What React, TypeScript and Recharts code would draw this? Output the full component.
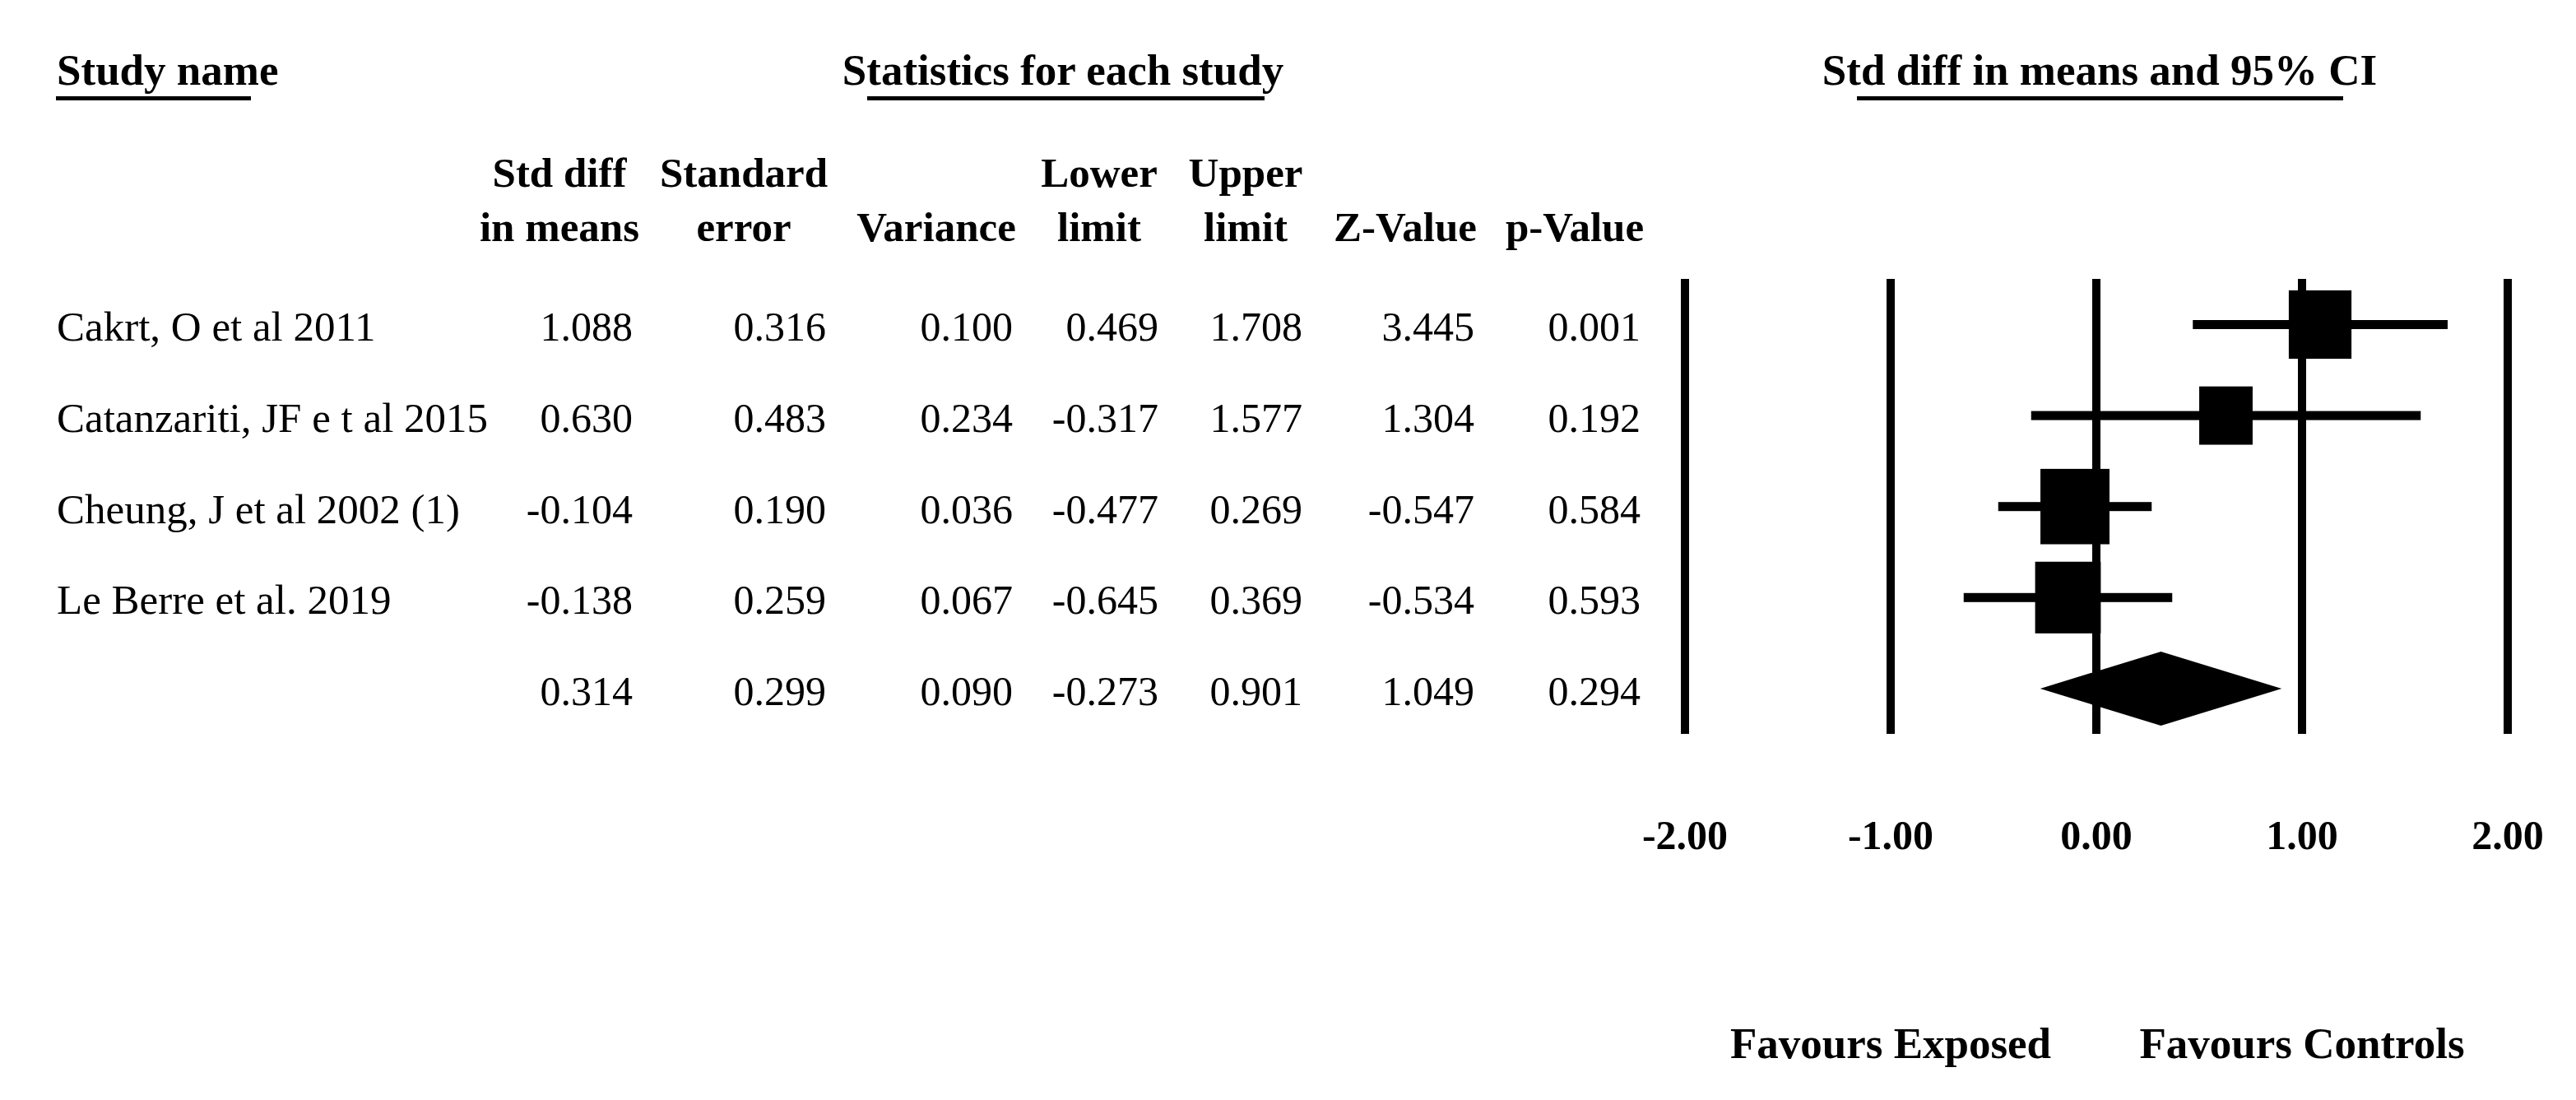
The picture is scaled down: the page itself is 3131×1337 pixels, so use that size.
import { Bar, ComposedChart, ReferenceLine, XAxis, YAxis } from 'recharts';

const studies = [
  'Cakrt, O et al 2011',
  'Catanzariti, JF e t al 2015',
  'Cheung, J et al 2002 (1)',
  'Le Berre et al. 2019',
  '',
];
const stdDiff = [1.088, 0.63, -0.104, -0.138, 0.314];
const stdErr = [0.316, 0.483, 0.19, 0.259, 0.299];
const variance = [0.1, 0.234, 0.036, 0.067, 0.09];
const lowerLimit = [0.469, -0.317, -0.477, -0.645, -0.273];
const upperLimit = [1.708, 1.577, 0.269, 0.369, 0.901];
const zValue = [3.445, 1.304, -0.547, -0.534, 1.049];
const pValue = [0.001, 0.192, 0.584, 0.593, 0.294];
// relative weights (%), last row is the pooled estimate
const weight = [24.8, 18.0, 30.1, 27.2, 0];

const xTicks = [-2, -1, 0, 1, 2];
const favourAt = [-1, 1];
const favourLabels = ['Favours Exposed', 'Favours Controls'];

const colHeads = [
  ['Std diff', 'in means'],
  ['Standard', 'error'],
  ['', 'Variance'],
  ['Lower', 'limit'],
  ['Upper', 'limit'],
  ['', 'Z-Value'],
  ['', 'p-Value'],
];
const colValues = [stdDiff, stdErr, variance, lowerLimit, upperLimit, zValue, pValue];

// layout (px)
const W = 3131;
const H = 1337;
const FONT = '"Liberation Serif", serif';
const colRight = [769, 1004, 1231, 1408, 1583, 1792, 1994];
const colCenter = [680, 904, 1138, 1336, 1514, 1708, 1914];

const rows = studies.map((name, i) => ({
  id: String(i),
  name,
  est: stdDiff[i],
  ci: [lowerLimit[i], upperLimit[i]],
  weight: weight[i],
  pooled: i === studies.length - 1,
}));

function RowShape(props: any) {
  const { y, height, payload } = props;
  let { x, width } = props;
  if (width < 0) {
    x += width;
    width = -width;
  }
  const cy = y + height / 2;
  const [lo, hi] = payload.ci;
  const cx = x + (width * (payload.est - lo)) / (hi - lo);
  if (payload.pooled) {
    const h = 45;
    return (
      <polygon
        points={`${x},${cy} ${cx},${cy - h} ${x + width},${cy} ${cx},${cy + h}`}
        fill="#000"
      />
    );
  }
  const s = Math.sqrt(payload.weight);
  const bw = 15.3 * s;
  const bh = 16.7 * s;
  return (
    <g>
      <rect x={x} y={cy - 5.5} width={width} height={11} fill="#000" />
      <rect x={cx - bw / 2} y={cy - bh / 2} width={bw} height={bh} fill="#000" />
    </g>
  );
}

function RowTick(props: any) {
  const { y, payload } = props;
  const i = Number(payload.value);
  const base = y + 20;
  return (
    <g fontFamily={FONT} fill="#000">
      <text x={69} y={base} fontSize={51}>
        {studies[i]}
      </text>
      {colValues.map((vals, k) => (
        <text key={k} x={colRight[k]} y={base} fontSize={50} textAnchor="end">
          {vals[i].toFixed(3)}
        </text>
      ))}
    </g>
  );
}

// tick value plus, under -1 and +1, the "favours" caption
function ValueTick(props: any) {
  const { x, payload } = props;
  const f = favourAt.indexOf(payload.value);
  return (
    <g fontFamily={FONT} fontWeight="bold" fill="#000">
      <text x={x} y={1032} fontSize={50} textAnchor="middle">
        {payload.value.toFixed(2)}
      </text>
      {f >= 0 && (
        <text x={x} y={1286} fontSize={53} textAnchor="middle">
          {favourLabels[f]}
        </text>
      )}
    </g>
  );
}

function Headers() {
  return (
    <svg
      width={W}
      height={H}
      style={{ position: 'absolute', left: 0, top: 0, pointerEvents: 'none' }}
    >
      <g fontFamily={FONT} fontWeight="bold" fill="#000" fontSize={53}>
        <text x={69} y={103}>Study name</text>
        <text x={1292} y={103} textAnchor="middle">Statistics for each study</text>
        <text x={2552} y={103} textAnchor="middle">Std diff in means and 95% CI</text>
        {colHeads.map((h, k) => (
          <g key={k}>
            <text x={colCenter[k]} y={227} textAnchor="middle" fontSize={51}>{h[0]}</text>
            <text x={colCenter[k]} y={293} textAnchor="middle" fontSize={51}>{h[1]}</text>
          </g>
        ))}
      </g>
      <rect x={68} y={117} width={237} height={5} fill="#000" />
      <rect x={1054} y={117} width={483} height={5} fill="#000" />
      <rect x={2257} y={117} width={591} height={5} fill="#000" />
    </svg>
  );
}

export default function App() {
  return (
    <div style={{ position: 'absolute', left: 0, top: 0, width: W, height: H, background: '#fff' }}>
      <ComposedChart
        width={W}
        height={H}
        data={rows}
        layout="vertical"
        margin={{ top: 339, right: 83, left: 0, bottom: 385 }}
      >
        <XAxis
          type="number"
          domain={[-2, 2]}
          ticks={xTicks}
          allowDataOverflow
          axisLine={false}
          tickLine={false}
          height={60}
          tick={(p: any) => <ValueTick {...p} />}
        />
        <YAxis
          type="category"
          dataKey="id"
          width={2048}
          axisLine={false}
          tickLine={false}
          interval={0}
          tick={(p: any) => <RowTick {...p} />}
        />
        {xTicks.map((v) => (
          <ReferenceLine key={v} x={v} stroke="#000" strokeWidth={10} />
        ))}
        <Bar dataKey="ci" barSize={11} shape={(p: any) => <RowShape {...p} />} isAnimationActive={false} />
      </ComposedChart>
      <Headers />
    </div>
  );
}
